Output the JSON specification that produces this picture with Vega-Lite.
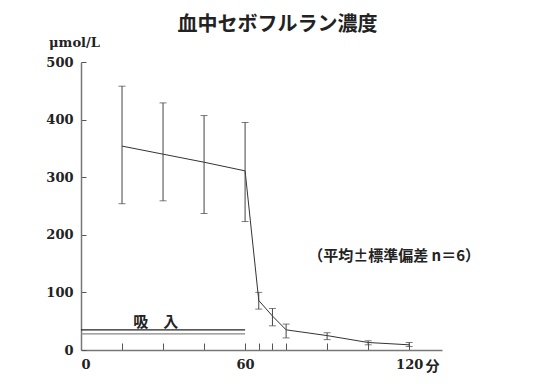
{
  "$schema": "https://vega.github.io/schema/vega-lite/v6.json",
  "autosize": "none",
  "width": 361,
  "height": 288,
  "padding": {"left": 81, "top": 62, "right": 111, "bottom": 34},
  "background": "white",
  "config": {"view": {"stroke": null}},
  "title": {"text": "血中セボフルラン濃度", "font": "Noto Sans CJK JP", "fontSize": 20, "fontWeight": "bold", "color": "#222", "anchor": "middle", "frame": "group", "dx": 16, "offset": 1},
  "datasets": {
    "conc": [
      {"min": 15, "mean": 354, "lower": 254, "upper": 458},
      {"min": 30, "mean": 340, "lower": 259, "upper": 429},
      {"min": 45, "mean": 326, "lower": 237, "upper": 407},
      {"min": 60, "mean": 311, "lower": 223, "upper": 395},
      {"min": 65, "mean": 86, "lower": 71, "upper": 100},
      {"min": 70, "mean": 59, "lower": 42, "upper": 72},
      {"min": 75, "mean": 35, "lower": 21, "upper": 45},
      {"min": 90, "mean": 25, "lower": 18, "upper": 30},
      {"min": 105, "mean": 13, "lower": 9, "upper": 16},
      {"min": 120, "mean": 9, "lower": 6, "upper": 13}
    ],
    "inhal": [
      {"start": 0, "end": 60, "level": 35, "line": "a"},
      {"start": 0, "end": 60, "level": 28, "line": "b"}
    ],
    "notes": [
      {"min": 27.3, "val": 49, "label": "吸　入", "size": 15},
      {"min": 114.5, "val": 163, "label": "（平均±標準偏差 n＝6）", "size": 15}
    ]
  },
  "layer": [
    {
      "data": {"name": "inhal"},
      "mark": {"type": "rule", "strokeWidth": 1.2},
      "encoding": {
        "x": {"field": "start", "type": "quantitative", "scale": {"domain": [0, 132], "nice": false}},
        "x2": {"field": "end"},
        "y": {"field": "level", "type": "quantitative"},
        "color": {"field": "line", "type": "nominal", "scale": {"domain": ["a", "b"], "range": ["#222222", "#888888"]}, "legend": null}
      }
    },
    {
      "data": {"name": "conc"},
      "mark": {"type": "line", "color": "#333333", "strokeWidth": 1},
      "encoding": {
        "x": {"field": "min", "type": "quantitative"},
        "y": {"field": "mean", "type": "quantitative"}
      }
    },
    {
      "data": {"name": "conc"},
      "mark": {"type": "errorbar", "ticks": {"size": 7, "color": "#444444"}, "rule": {"color": "#444444", "strokeWidth": 1}},
      "encoding": {
        "x": {"field": "min", "type": "quantitative"},
        "y": {"field": "lower", "type": "quantitative"},
        "y2": {"field": "upper"}
      }
    },
    {
      "data": {"name": "notes"},
      "mark": {"type": "text", "font": "Noto Sans CJK JP", "fontWeight": "bold", "color": "#222222", "baseline": "middle", "align": "center"},
      "encoding": {
        "x": {"field": "min", "type": "quantitative"},
        "y": {"field": "val", "type": "quantitative"},
        "text": {"field": "label"},
        "size": {"field": "size", "type": "quantitative", "scale": null}
      }
    }
  ],
  "resolve": {"scale": {"size": "independent"}},
  "encoding": {
    "x": {
      "type": "quantitative",
      "scale": {"domain": [0, 132], "nice": false},
      "axis": {
        "values": [0, 15, 30, 45, 60, 65, 70, 75, 90, 105, 120],
        "labelExpr": "datum.value == 0 || datum.value == 60 || datum.value == 120 ? datum.label : ''",
        "grid": false, "domainColor": "#777777", "domainWidth": 1.5, "tickColor": "#555555", "tickSize": -7, "tickWidth": 1,
        "labelPadding": 15, "labelFont": "DejaVu Serif", "labelFontWeight": "bold", "labelFontSize": 13, "labelColor": "#222222",
        "title": "分", "titleFont": "Noto Sans CJK JP", "titleFontWeight": "bold", "titleFontSize": 14, "titleColor": "#222222",
        "titleAngle": 0, "titleX": 351, "titleY": 16, "titleBaseline": "middle", "titleAlign": "center"
      }
    },
    "y": {
      "type": "quantitative",
      "scale": {"domain": [0, 500], "nice": false},
      "axis": {
        "values": [0, 100, 200, 300, 400, 500],
        "grid": false, "domainColor": "#777777", "domainWidth": 1.5, "tickColor": "#555555", "tickSize": -5, "tickWidth": 1,
        "labelPadding": 13, "labelFont": "DejaVu Serif", "labelFontWeight": "bold", "labelFontSize": 13, "labelColor": "#222222",
        "title": "μmol/L", "titleFont": "DejaVu Serif", "titleFontWeight": "bold", "titleFontSize": 13, "titleColor": "#222222",
        "titleAngle": 0, "titleX": -7, "titleY": -20, "titleBaseline": "middle", "titleAlign": "center"
      }
    }
  }
}
